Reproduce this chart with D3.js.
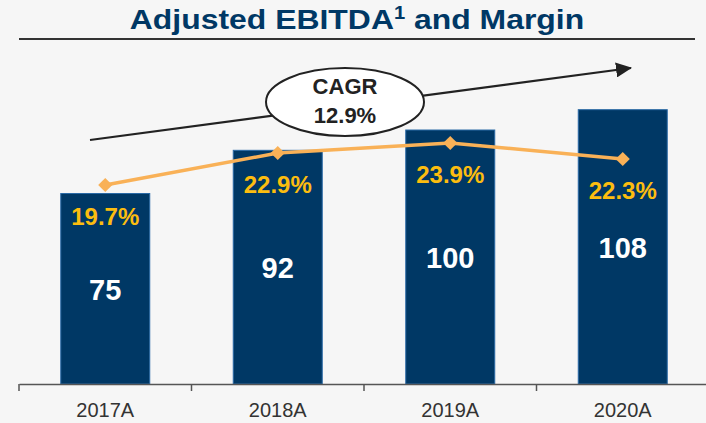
<!DOCTYPE html>
<html>
<head>
<meta charset="utf-8">
<script src="https://cdn.jsdelivr.net/npm/d3@7"></script>
<style>
  html, body { margin: 0; padding: 0; background: #f6f6f6; }
  svg { display: block; font-family: "Liberation Sans", Arial, sans-serif; }
</style>
</head>
<body>
<svg id="chart" width="706" height="423"></svg>
<script>
const years = ['2017A', '2018A', '2019A', '2020A'];
const ebitda = [75, 92, 100, 108];
const margin = [19.7, 22.9, 23.9, 22.3];
const cagr = '12.9%';

const svg = d3.select('#chart');

// title + rule (reference glyphs are a little wider than Arial, so stretch x)
const title = svg.append('text')
  .attr('transform', 'translate(357,29) scale(1.12,1)')
  .attr('text-anchor', 'middle')
  .attr('font-size', 28.5).attr('font-weight', 'bold')
  .attr('fill', '#003865');
title.append('tspan').text('Adjusted EBITDA');
title.append('tspan').attr('font-size', 18).attr('dy', -10).text('1');
title.append('tspan').attr('dy', 10).text(' and Margin');

svg.append('line')
  .attr('x1', 19).attr('x2', 695).attr('y1', 39).attr('y2', 39)
  .attr('stroke', '#333').attr('stroke-width', 2);

const x = d3.scaleBand().domain(years).range([19, 709]);
const y = d3.scaleLinear().domain([0, 130]).range([384, 53.8]);
const ym = d3.scaleLinear().domain([0, 30]).range([382, 82]);

const barW = 89;
const cx = d => x(d) + x.bandwidth() / 2;

// bars
svg.selectAll('rect.bar')
  .data(years)
  .enter().append('rect')
  .attr('class', 'bar')
  .attr('x', d => cx(d) - barW / 2)
  .attr('width', barW)
  .attr('y', (d, i) => y(ebitda[i]))
  .attr('height', (d, i) => y(0) - y(ebitda[i]))
  .attr('fill', '#003865')
  .attr('stroke', '#2a6aa6').attr('stroke-width', 1);

// value labels
svg.selectAll('text.val')
  .data(years)
  .enter().append('text')
  .attr('class', 'val')
  .attr('x', d => cx(d))
  .attr('y', (d, i) => (y(ebitda[i]) + y(0)) / 2 + 11)
  .attr('text-anchor', 'middle')
  .attr('font-size', 29).attr('font-weight', 'bold')
  .attr('fill', '#fff')
  .text((d, i) => ebitda[i]);

// axis
const axis = svg.append('g').attr('transform', 'translate(0,384)')
  .call(d3.axisBottom(x).tickSize(0).tickPadding(19));
axis.select('.domain').attr('stroke', '#555').attr('stroke-width', 1.5);
axis.selectAll('text').attr('font-size', 20).attr('fill', '#333')
  .attr('font-family', '"Liberation Sans", Arial, sans-serif');
svg.selectAll('line.tk')
  .data(years)
  .enter().append('line')
  .attr('class', 'tk')
  .attr('x1', d => x(d)).attr('x2', d => x(d))
  .attr('y1', 384).attr('y2', 391)
  .attr('stroke', '#555').attr('stroke-width', 1.5);

// margin line
const line = d3.line().x((d, i) => cx(years[i])).y(d => ym(d));
svg.append('path')
  .datum(margin)
  .attr('d', line)
  .attr('fill', 'none')
  .attr('stroke', '#f9b157').attr('stroke-width', 3.5);

svg.selectAll('path.dia')
  .data(margin)
  .enter().append('path')
  .attr('class', 'dia')
  .attr('d', d3.symbol(d3.symbolSquare, 100))
  .attr('transform', (d, i) => `translate(${cx(years[i])},${ym(d)}) rotate(45)`)
  .attr('fill', '#f9b157');

svg.selectAll('text.mg')
  .data(margin)
  .enter().append('text')
  .attr('class', 'mg')
  .attr('x', (d, i) => cx(years[i]))
  .attr('y', d => ym(d) + 40)
  .attr('text-anchor', 'middle')
  .attr('font-size', 24).attr('font-weight', 'bold')
  .attr('fill', '#fcbd0f')
  .text(d => d.toFixed(1) + '%');

// CAGR arrow
svg.append('defs').append('marker')
  .attr('id', 'arr')
  .attr('viewBox', '0 0 16 15')
  .attr('refX', 15).attr('refY', 7.5)
  .attr('markerWidth', 16).attr('markerHeight', 15)
  .attr('markerUnits', 'userSpaceOnUse')
  .attr('orient', 'auto')
  .append('path').attr('d', 'M0,0L16,7.5L0,15Z').attr('fill', '#222');

svg.append('line')
  .attr('x1', 90).attr('y1', 140).attr('x2', 631).attr('y2', 68)
  .attr('stroke', '#222').attr('stroke-width', 2.2)
  .attr('marker-end', 'url(#arr)');

svg.append('ellipse')
  .attr('cx', 345).attr('cy', 102).attr('rx', 79).attr('ry', 34)
  .attr('fill', '#fff').attr('stroke', '#222').attr('stroke-width', 2);

svg.append('text')
  .attr('x', 345).attr('y', 94)
  .attr('text-anchor', 'middle')
  .attr('font-size', 22).attr('font-weight', 'bold').attr('fill', '#222')
  .text('CAGR');
svg.append('text')
  .attr('x', 345).attr('y', 123)
  .attr('text-anchor', 'middle')
  .attr('font-size', 22).attr('font-weight', 'bold').attr('fill', '#222')
  .text(cagr);
</script>
</body>
</html>
